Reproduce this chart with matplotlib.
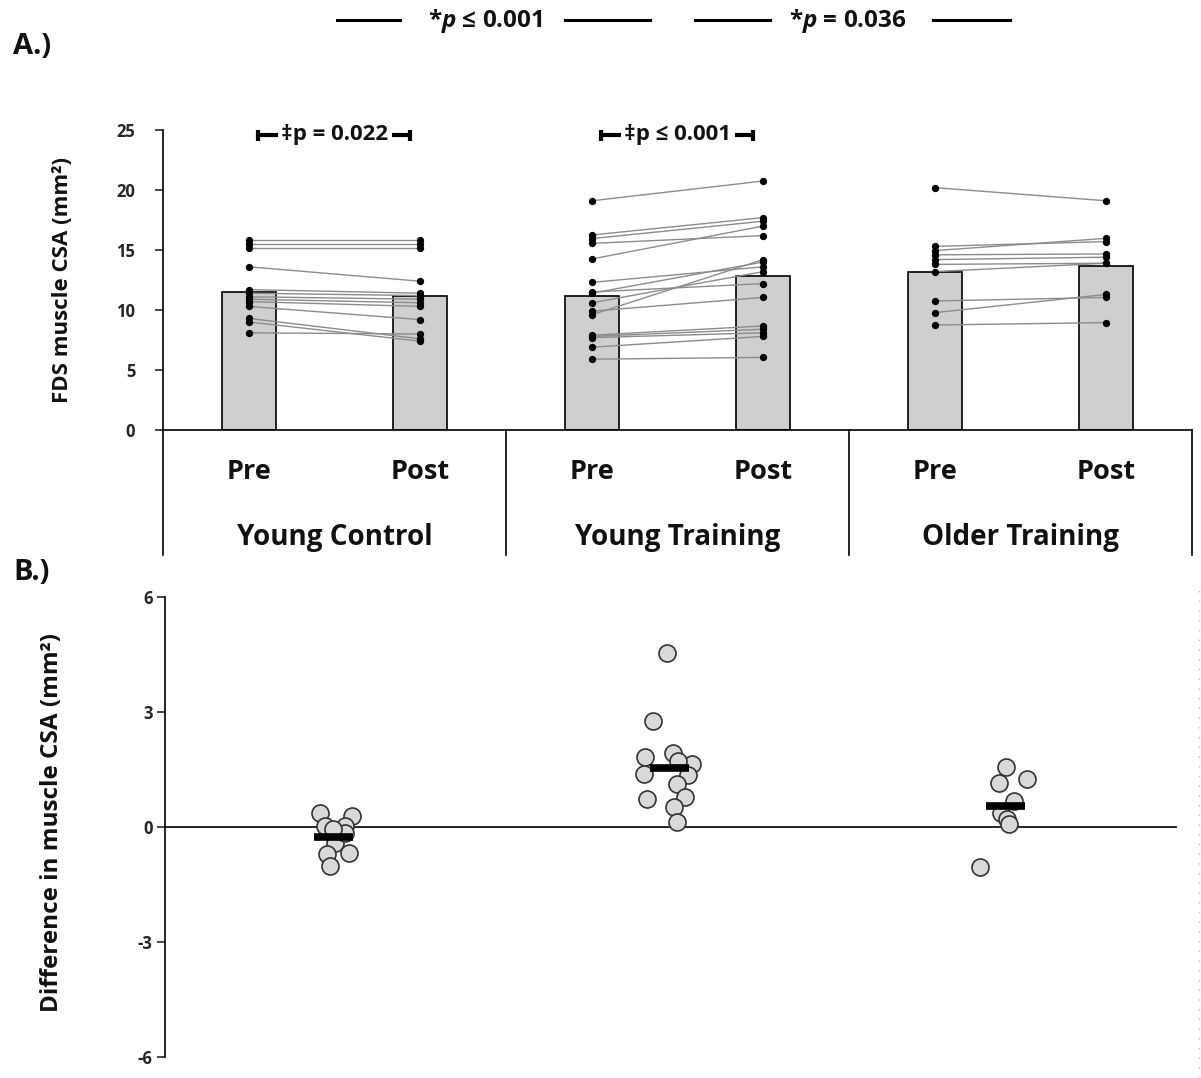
import matplotlib
matplotlib.use("Agg")
import matplotlib.pyplot as plt
import matplotlib.transforms as mtransforms
from matplotlib.lines import Line2D
import numpy as np

plt.rcParams["font.family"] = ["Open Sans", "DejaVu Sans"]
plt.rcParams["font.weight"] = "bold"
plt.rcParams["axes.unicode_minus"] = False
plt.rcParams["mathtext.fontset"] = "custom"
plt.rcParams["mathtext.bfit"] = "Open Sans:italic:bold"

# ---- data ---------------------------------------------------------------
groups = ["Young Control", "Young Training", "Older Training"]
timepoints = ["Pre", "Post"]

# group means (bar heights), mm^2
bar_pre = [11.5, 11.15, 13.15]
bar_post = [11.2, 12.85, 13.7]

# individual CSA values (paired pre / post)
yc_pre = [15.8, 15.5, 15.2, 13.6, 11.7, 11.4, 11.1, 10.9, 10.7, 10.3, 9.3, 9.0, 8.1]
yc_post = [15.8, 15.5, 15.2, 12.4, 11.4, 11.2, 10.9, 10.6, 10.3, 9.2, 7.6, 7.4, 8.0]
yt_pre = [19.1, 16.25, 15.95, 15.55, 14.25, 12.3, 11.5, 11.4, 10.6, 9.9, 9.6,
          7.9, 7.8, 7.7, 6.9, 5.9]
yt_post = [20.75, 17.7, 17.4, 16.2, 17.0, 13.6, 12.2, 14.0, 13.2, 11.05, 14.2,
           8.67, 8.4, 8.1, 7.8, 6.05]
ot_pre = [20.2, 15.3, 14.95, 14.6, 14.2, 13.8, 13.2, 10.75, 9.78, 8.75]
ot_post = [19.1, 15.7, 15.97, 14.67, 14.4, 13.9, 13.9, 11.05, 11.3, 8.95]

# panel B: change (post - pre)
yc_diff = [0.37, 0.03, 0.29, 0.03, -0.41, -0.67, -0.71, -1.02, -0.15, -0.05]
yt_diff = [4.53, 2.77, 1.83, 1.94, 1.39, 1.64, 1.36, 1.11, 0.78, 0.72, 0.52, 0.14, 1.72]
ot_diff = [1.57, 1.14, 1.24, 0.68, 0.37, 0.20, 0.07, -1.04]
diff_mean = [-0.26, 1.55, 0.55]

# horizontal spread of the dots in panel B (fraction of a category)
yc_jit = [-0.038, -0.023, 0.056, 0.036, 0.007, 0.046, -0.018, -0.008, 0.034, 0.0]
yt_jit = [-0.007, -0.049, -0.072, 0.012, -0.076, 0.067, 0.057, 0.022, 0.047, -0.067,
          0.014, 0.022, 0.027]
ot_jit = [0.0, -0.02, 0.064, 0.024, -0.013, 0.004, 0.01, -0.076]

ann_within = ["\u2021p = 0.022", "\u2021p \u2264 0.001", None]

# ---- figure -------------------------------------------------------------
W, H = 1201, 1078
fig = plt.figure(figsize=(W / 100, H / 100), dpi=100)
axA = fig.add_axes([163 / W, 1 - 430 / H, 1029 / W, 300 / H])
axB = fig.add_axes([165 / W, 1 - 1057 / H, 1012 / W, 460 / H])

bar_col = "#d0cece"
line_col = "#8c8c8c"
txt_col = "#111111"

# ---- panel A ------------------------------------------------------------
pairs = [(yc_pre, yc_post), (yt_pre, yt_post), (ot_pre, ot_post)]
xs = np.arange(6)
heights = [v for pair in zip(bar_pre, bar_post) for v in pair]
axA.bar(xs, heights, width=0.315, color=bar_col, edgecolor="black", linewidth=1.2, zorder=2)

for g, (pre, post) in enumerate(pairs):
    x0, x1 = 2 * g, 2 * g + 1
    for a, b in zip(pre, post):
        axA.plot([x0, x1], [a, b], color=line_col, lw=1.0, zorder=3)
    axA.scatter([x0] * len(pre), pre, s=18, color="black", zorder=4)
    axA.scatter([x1] * len(post), post, s=18, color="black", zorder=4)

axA.set_xlim(-0.5, 5.5)
axA.set_ylim(0, 25)
axA.set_yticks(range(0, 26, 5))
axA.set_xticks([])
for s in ["top", "right"]:
    axA.spines[s].set_visible(False)
axA.spines["left"].set_linewidth(1.2)
axA.spines["bottom"].set_linewidth(1.2)
axA.tick_params(axis="y", direction="out", length=6, width=1.2, labelsize=12,
                colors="#262626", pad=14)

trans = mtransforms.blended_transform_factory(axA.transData, axA.transAxes)
for xsep in [-0.5, 1.5, 3.5, 5.5]:
    axA.plot([xsep, xsep], [0, -0.417], transform=trans, clip_on=False,
             color="black", lw=1.2)
for i, x in enumerate(xs):
    axA.text(x, -0.14, timepoints[i % 2], transform=trans, ha="center", va="center",
             fontsize=19.5, fontweight="bold", color=txt_col)
for g, name in enumerate(groups):
    axA.text(2 * g + 0.5, -0.36, name, transform=trans, ha="center", va="center",
             fontsize=20, fontweight="bold", color=txt_col)

# within-group brackets
for g, txt in enumerate(ann_within):
    if txt is None:
        continue
    c = 2 * g
    y = 24.6
    axA.plot([c + 0.054, c + 0.17], [y, y], color="black", lw=3, solid_capstyle="butt")
    axA.plot([c + 0.835, c + 0.94], [y, y], color="black", lw=3, solid_capstyle="butt")
    axA.plot([c + 0.054, c + 0.94], [y, y], ls="none", marker="|", ms=9, mew=3,
             color="black")
    axA.text(c + 0.5, y, txt, ha="center", va="center", fontsize=16,
             fontweight="bold", color=txt_col)

# between-group comparisons above panel
top = [(0.515, 0.882, 1.378, 1.845, 2.34, "*$\\mathbfit{p}$ \u2264 0.001"),
       (2.603, 3.04, 3.496, 3.99, 4.44, "*$\\mathbfit{p}$ = 0.036")]
for l0, l1, tc, r0, r1, txt in top:
    for a, b in [(l0, l1), (r0, r1)]:
        axA.plot([a, b], [1.367, 1.367], transform=trans, clip_on=False,
                 color="black", lw=2.2)
    axA.text(tc, 1.362, txt, transform=trans, ha="center", va="center",
             fontsize=17.5, fontweight="bold", color=txt_col)

fig.text(62 / W, 1 - 280 / H, "FDS muscle CSA (mm\u00b2)", rotation=90,
         ha="center", va="center", fontsize=16, fontweight="bold", color=txt_col)

# ---- panel B ------------------------------------------------------------
diffs = [yc_diff, yt_diff, ot_diff]
jits = [yc_jit, yt_jit, ot_jit]
for g, (d, j) in enumerate(zip(diffs, jits)):
    xpos = [g + 1 + o for o in j]
    axB.scatter(xpos, d, s=150, facecolor="#d9d9d9", edgecolor="#333333",
                linewidth=1.2, zorder=3)
    axB.hlines(diff_mean[g], g + 1 - 0.058, g + 1 + 0.058, color="black",
               lw=5.5, zorder=4)

axB.axhline(0, color="black", lw=1.2, zorder=2)
axB.set_xlim(0.5, 3.51)
axB.set_ylim(-6, 6)
axB.set_yticks([-6, -3, 0, 3, 6])
axB.set_xticks([])
for s in ["top", "right", "bottom"]:
    axB.spines[s].set_visible(False)
axB.spines["left"].set_linewidth(1.2)
axB.tick_params(axis="y", direction="out", length=6, width=1.2, labelsize=12,
                colors="#262626", pad=3)

fig.text(52 / W, 1 - 822 / H, "Difference in muscle CSA (mm\u00b2)", rotation=90,
         ha="center", va="center", fontsize=17.5, fontweight="bold", color=txt_col)

# panel letters
fig.text(13 / W, 1 - 47 / H, "A.)", ha="left", va="center", fontsize=21,
         fontweight="bold", color=txt_col)
fig.text(13 / W, 1 - 573 / H, "B.)", ha="left", va="center", fontsize=21,
         fontweight="bold", color=txt_col)

# faint dotted border on the right of panel B
fig.add_artist(Line2D([1199 / W, 1199 / W], [0, 1 - 590 / H], transform=fig.transFigure,
                      color="#bbbbbb", lw=1, linestyle=(0, (1, 6))))

fig.savefig("out.png", dpi=100)
